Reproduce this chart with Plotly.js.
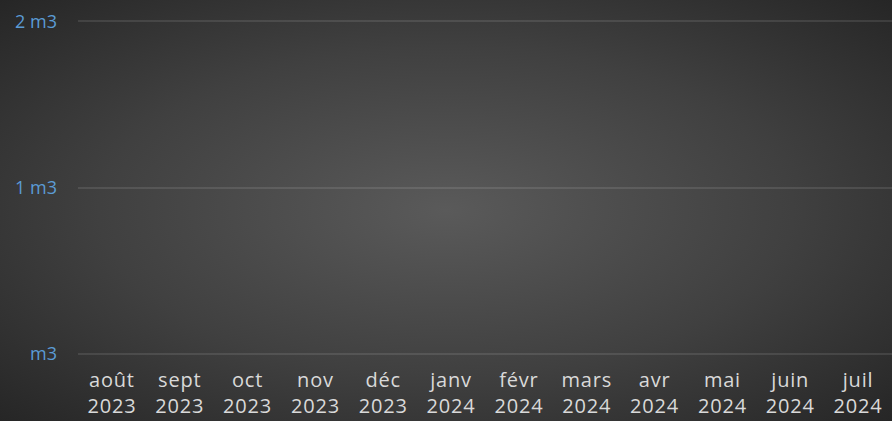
<!DOCTYPE html>
<html>
<head>
<meta charset="utf-8">
<script src="https://cdn.plot.ly/plotly-3.0.1.min.js"></script>
<style>
  html, body { margin: 0; padding: 0; }
  body {
    width: 892px; height: 421px; overflow: hidden;
    background: radial-gradient(ellipse at center, #5a5a5a 0%, #404040 55%, #262626 100%);
  }
  #chart { width: 892px; height: 421px; }
  .xtick text { letter-spacing: 0.8px; }
</style>
</head>
<body>
<div id="chart"></div>
<script>
// monthly volumes, nothing recorded yet
let months = ["août", "sept", "oct", "nov", "déc", "janv", "févr", "mars", "avr", "mai", "juin", "juil"];
let years = ["2023", "2023", "2023", "2023", "2023", "2024", "2024", "2024", "2024", "2024", "2024", "2024"];
let volumes = [null, null, null, null, null, null, null, null, null, null, null, null];
let yTicks = [0, 1, 2];
let yTickText = ["m3", "1 m3", "2 m3"];

let labels = months.map((m, i) => m + "<br>" + years[i]);

let data = [{
  x: labels,
  y: volumes,
  type: "bar",
  marker: { color: "#5b9bd5" },
  hoverinfo: "skip"
}];

let layout = {
  width: 892,
  height: 421,
  margin: { l: 78, r: 0, t: 13, b: 59 },
  paper_bgcolor: "rgba(0,0,0,0)",
  plot_bgcolor: "rgba(0,0,0,0)",
  showlegend: false,
  xaxis: {
    type: "category",
    categoryorder: "array",
    categoryarray: labels,
    range: [-0.5, 11.5],
    showgrid: false,
    zeroline: false,
    showline: false,
    ticks: "",
    ticklabelstandoff: 4,
    tickfont: { family: "Open Sans", size: 20, color: "#d9d9d9" },
    fixedrange: true
  },
  yaxis: {
    range: [-0.05, 2.05],
    tickvals: yTicks,
    ticktext: yTickText,
    showgrid: true,
    gridcolor: "rgba(255,255,255,0.1)",
    gridwidth: 2,
    zeroline: false,
    showline: false,
    ticks: "",
    ticklabelstandoff: 20,
    tickfont: { family: "Open Sans", size: 18, color: "#5b9bd5" },
    fixedrange: true
  }
};

Plotly.newPlot("chart", data, layout, { displayModeBar: false, staticPlot: true });
</script>
</body>
</html>
